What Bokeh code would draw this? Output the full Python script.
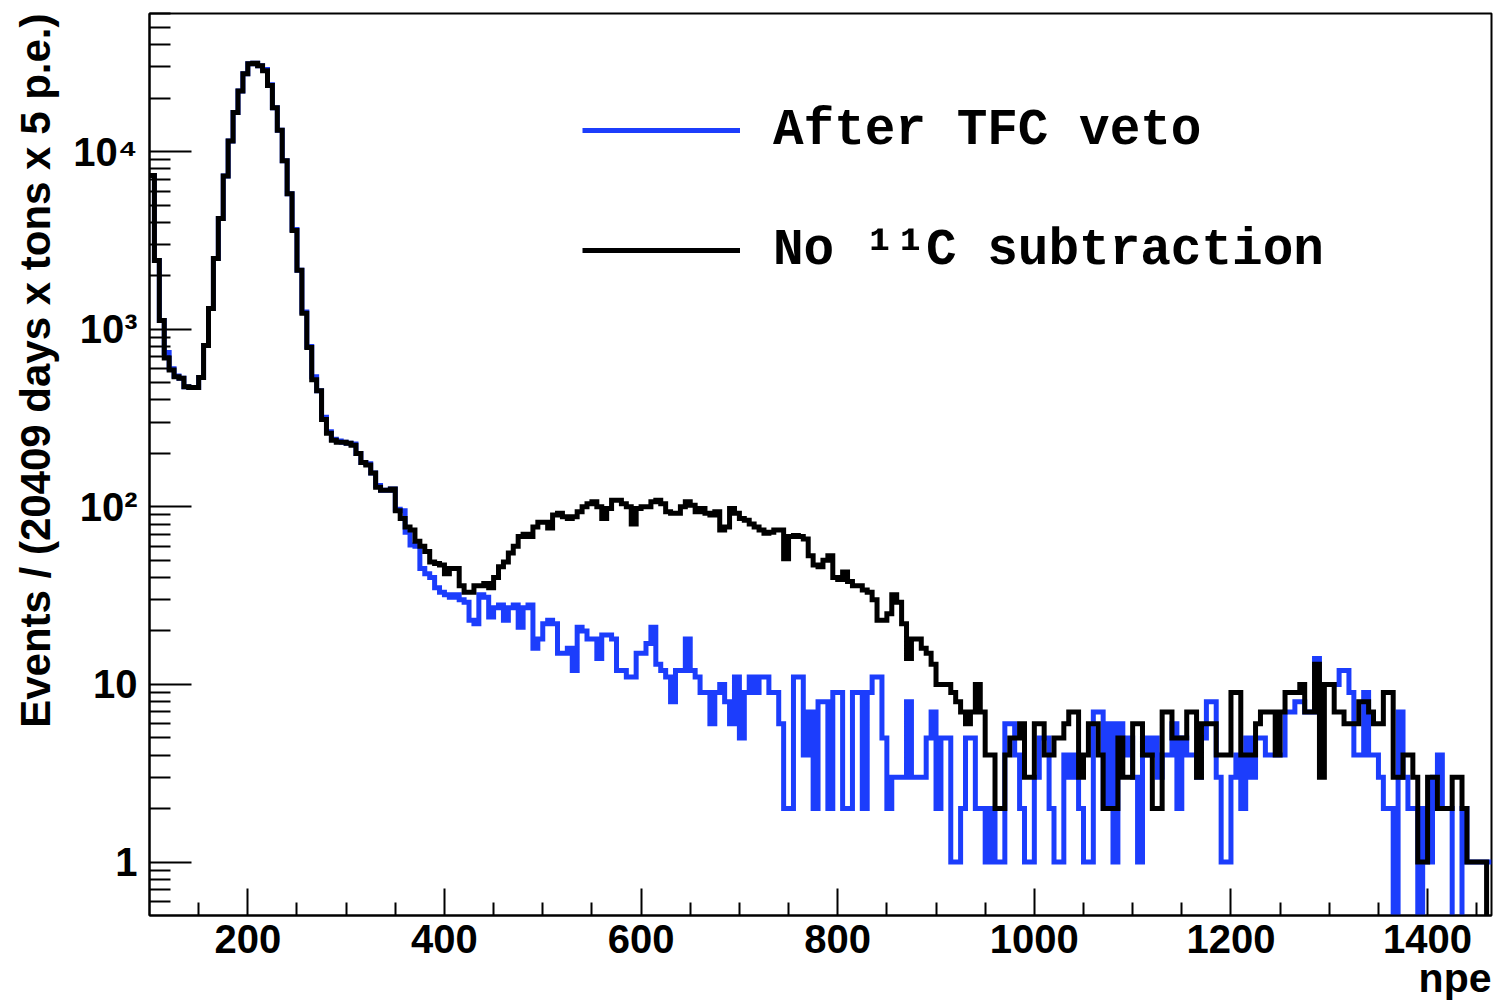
import numpy as np
from bokeh.plotting import figure
from bokeh.models import Range1d, FixedTicker, Legend, LegendItem, Title
from bokeh.embed import file_html
from bokeh.resources import INLINE

# ---- data: 5 p.e. bins starting at 100 npe ----
bin_start = 100
bin_width = 5

no_c11_subtraction = [
    7340, 2440, 1120, 690, 590, 540, 530, 475, 470, 470, 535,
    810, 1310, 2500, 4200, 7300, 11500, 16600, 22000, 27500, 31300,
    31500, 30500, 28600, 23600, 17700, 13200, 8900, 5800, 3600, 2150,
    1230, 790, 520, 450, 310, 260, 237, 231, 231, 228,
    222, 200, 178, 172, 155, 129, 124, 124, 126, 95,
    86, 77, 74, 64, 60, 56, 49, 48, 47, 42,
    45, 45, 36, 33, 33, 36, 36, 37, 35, 40,
    46, 49, 55, 60, 68, 70, 68, 77, 82, 82,
    76, 90, 92, 88, 86, 88, 94, 100, 104, 107,
    100, 86, 98, 109, 109, 104, 100, 80, 98, 100,
    100, 107, 109, 104, 94, 92, 92, 100, 107, 102,
    94, 98, 92, 90, 94, 74, 77, 98, 92, 86,
    84, 80, 77, 74, 71, 72, 74, 74, 51, 68,
    69, 68, 66, 53, 47, 46, 50, 53, 40, 39,
    43, 38, 36, 36, 34, 33, 30, 23, 23, 25,
    32, 29, 22, 14, 18, 18, 16, 15, 13, 10,
    10, 10, 9, 8, 7, 6, 7, 10, 7, 4,
    4, 2, 2, 4, 5, 5, 6, 3, 3, 6,
    6, 4, 4, 5, 5, 6, 7, 7, 3, 4,
    6, 6, 4, 2, 2, 2, 5, 3, 3, 6,
    6, 4, 4, 2, 2, 7, 7, 5, 5, 5,
    7, 7, 3, 6, 6, 6, 4, 4, 4, 9,
    9, 4, 4, 4, 6, 7, 7, 7, 4, 7,
    9, 9, 9, 10, 7, 7, 13, 3, 10, 10,
    7, 7, 6, 6, 6, 8, 8, 7, 6, 6,
    9, 9, 3, 3, 4, 4, 3, 1, 1, 3,
    3, 2, 2, 2, 3, 3, 2, 1, 1, 1, 1, 0,
]

after_tfc_veto = [
    7340, 2440, 1120, 740, 600, 545, 530, 475, 470, 470, 535,
    810, 1310, 2500, 4200, 7300, 11500, 16600, 22000, 27500, 31300,
    31500, 30500, 29000, 23800, 17700, 13200, 8900, 5800, 3650, 2150,
    1250, 800, 540, 450, 320, 265, 240, 235, 231, 228,
    226, 200, 178, 175, 155, 132, 124, 124, 126, 97,
    95, 72, 61, 60, 45, 42, 40, 35, 33, 32,
    31, 32, 30, 29, 23, 22, 32, 31, 24, 27,
    28, 23, 27, 28, 21, 27, 28, 16, 18, 22,
    23, 22, 15, 15, 16, 12, 21, 20, 18, 18,
    14, 19, 19, 18, 12, 12, 11, 11, 15, 15,
    17, 21, 13, 12, 11, 8, 12, 12, 18, 12,
    11, 9, 9, 6, 9, 10, 8, 6, 11, 5,
    9, 11, 9, 11, 11, 9, 9, 6, 2, 2,
    11, 11, 4, 7, 2, 8, 8, 2, 9, 9,
    2, 2, 9, 9, 2, 9, 11, 11, 5, 2,
    3, 3, 3, 8, 3, 3, 3, 5, 7, 2,
    5, 5, 1, 1, 2, 5, 5, 2, 2, 1,
    2, 1, 1, 6, 6, 4, 2, 1, 1, 3,
    5, 5, 2, 1, 1, 4, 3, 4, 2, 1,
    1, 7, 7, 2, 6, 1, 6, 4, 5, 3,
    1, 5, 4, 5, 3, 4, 4, 6, 2, 5,
    4, 4, 3, 5, 8, 8, 3, 1, 1, 3,
    4, 2, 5, 3, 5, 5, 4, 4, 4, 4,
    7, 7, 8, 8, 7, 7, 14, 10, 10, 10,
    10, 12, 12, 9, 4, 4, 9, 4, 4, 3,
    2, 2, 0, 7, 3, 2, 2, 0, 2, 1,
    3, 4, 2, 2, 0, 0, 2, 1, 1, 1, 1, 1,
]

x_ticks = [200, 400, 600, 800, 1000, 1200, 1400]
y_ticks = [1, 10, 100, 1000, 10000]
y_tick_labels = ["1", "10", "10\u00b2", "10\u00b3", "10\u2074"]
series_labels = ["After TFC veto", "No \u00b9\u00b9C subtraction"]
x_title = "npe"
y_title = "Events / (20409 days x tons x 5 p.e.)"

x_lo, x_hi = 100, 1465
y_lo, y_hi = 0.5, 60000

assert len(no_c11_subtraction) == len(after_tfc_veto)
n_bins = len(after_tfc_veto)
edges = bin_start + bin_width * np.arange(n_bins + 1)


def step_values(vals):
    a = np.asarray(vals, dtype=float)
    a[a <= 0] = y_lo * 0.2  # empty bins drop below the frame (clipped)
    return np.append(a, a[-1])


FIG_W, FIG_H = 1498, 1003
BL, BR, BT, BB = 149, 7, 13, 88

p = figure(width=FIG_W, height=FIG_H,
           x_range=Range1d(x_lo, x_hi), y_range=Range1d(y_lo, y_hi),
           y_axis_type="log", output_backend="svg", toolbar_location=None,
           min_border_left=BL, min_border_right=BR,
           min_border_top=BT, min_border_bottom=BB)
p.background_fill_color = "white"
p.border_fill_color = "white"
p.grid.visible = False
p.outline_line_color = "black"
p.outline_line_width = 2

blue = "#1c3dfc"
r_blue = p.step(x=edges, y=step_values(after_tfc_veto), mode="after",
                line_color=blue, line_width=5, line_join="miter")
r_black = p.step(x=edges, y=step_values(no_c11_subtraction), mode="after",
                 line_color="black", line_width=5, line_join="miter")

FONT = "Liberation Sans"

# x axis
xa = p.xaxis[0]
x_minor = [v for v in range(x_lo, x_hi + 1, 50) if v not in x_ticks and x_lo < v < x_hi]
xa.ticker = FixedTicker(ticks=x_ticks, minor_ticks=x_minor)
xa.major_tick_in = 27
xa.major_tick_out = 0
xa.minor_tick_in = 13
xa.minor_tick_out = 0
xa.major_tick_line_width = 2
xa.minor_tick_line_width = 2
xa.axis_line_width = 2
xa.major_label_text_font = FONT
xa.major_label_text_font_style = "bold"
xa.major_label_text_font_size = "40px"
xa.major_label_text_color = "black"
xa.major_label_standoff = 9

# y axis
ya = p.yaxis[0]
y_minor = []
for e in range(-1, 5):
    for m in range(2, 10):
        v = m * 10.0 ** e
        if y_lo < v <= y_hi:
            y_minor.append(v)
ya.ticker = FixedTicker(ticks=[float(t) for t in y_ticks], minor_ticks=y_minor)
ya.major_label_overrides = {float(t): lab for t, lab in zip(y_ticks, y_tick_labels)}
ya.major_tick_in = 42
ya.major_tick_out = 0
ya.minor_tick_in = 21
ya.minor_tick_out = 0
ya.major_tick_line_width = 2
ya.minor_tick_line_width = 2
ya.axis_line_width = 2
ya.major_label_text_font = FONT
ya.major_label_text_font_style = "bold"
ya.major_label_text_font_size = "40px"
ya.major_label_text_color = "black"
ya.major_label_standoff = 12

# axis titles, ROOT style: right-aligned at the far end of each axis
p.add_layout(Title(text=y_title, align="right", vertical_align="top", standoff=20,
                   text_font=FONT, text_font_style="bold",
                   text_font_size="42px", text_color="black"), "left")
p.add_layout(Title(text=x_title, align="right", vertical_align="bottom", standoff=-6,
                   text_font=FONT, text_font_style="bold",
                   text_font_size="41px", text_color="black"), "below")

legend = Legend(items=[LegendItem(label=series_labels[0], renderers=[r_blue]),
                       LegendItem(label=series_labels[1], renderers=[r_black])],
                location=(433, 635), orientation="vertical",
                glyph_width=158, glyph_height=60, label_height=60,
                label_standoff=33, spacing=60, padding=0, margin=0,
                border_line_color=None, background_fill_alpha=0,
                label_text_font="Liberation Mono", label_text_font_style="bold",
                label_text_font_size="51px", label_text_baseline="middle",
                label_text_color="black")
p.add_layout(legend)

open("out.html", "w").write(file_html(p, INLINE))
